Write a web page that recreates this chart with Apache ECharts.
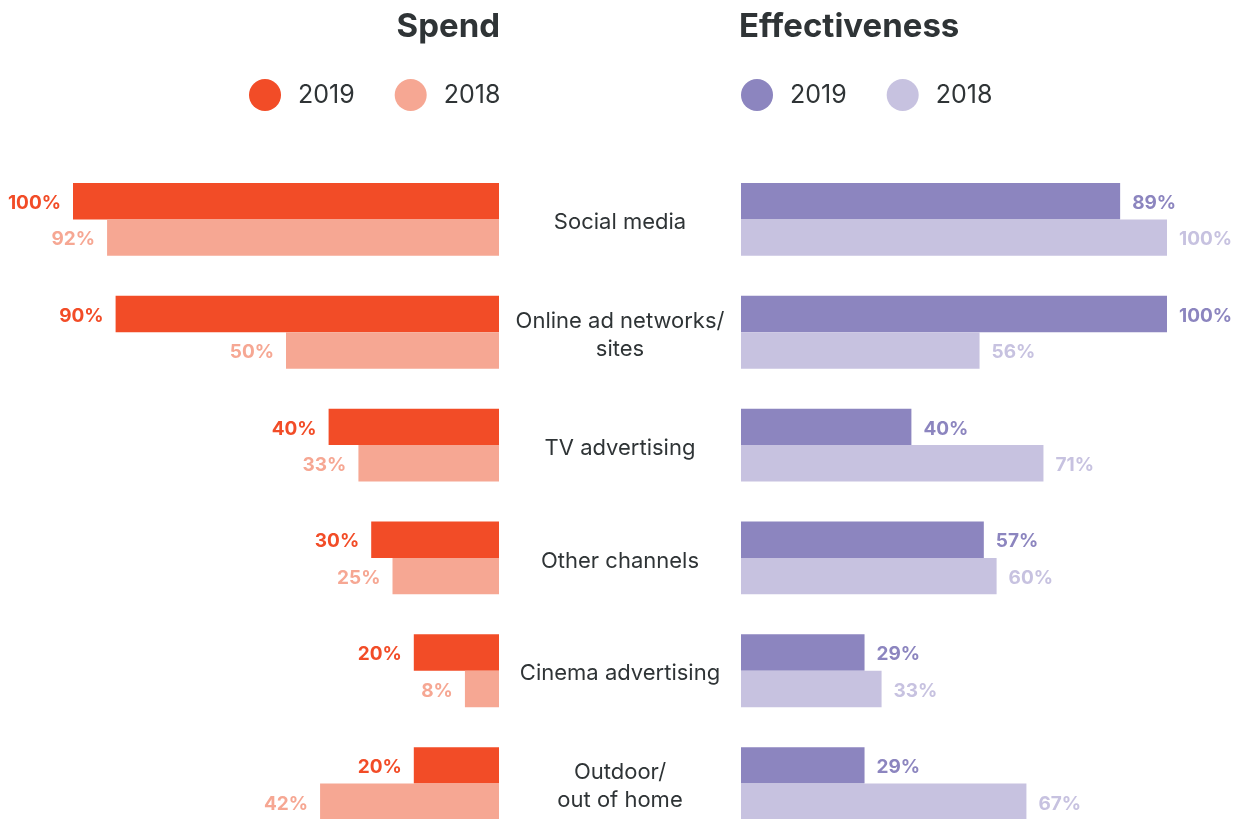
<!DOCTYPE html>
<html>
<head>
<meta charset="utf-8">
<style>
  html, body { margin: 0; padding: 0; background: #ffffff; }
  #chart { width: 1244px; height: 819px; }
</style>
<script src="https://cdn.jsdelivr.net/npm/echarts@6/dist/echarts.min.js"></script>
</head>
<body>
<div id="chart"></div>
<script>
// Channels, top to bottom
const categories = ['Social media', 'Online ad networks/\nsites', 'TV advertising', 'Other channels', 'Cinema advertising', 'Outdoor/\nout of home'];

// Spend share (%)
const spend2019 = [100, 90, 40, 30, 20, 20];
const spend2018 = [92, 50, 33, 25, 8, 42];

// Effectiveness share (%)
const effect2019 = [89, 100, 40, 57, 29, 29];
const effect2018 = [100, 56, 71, 60, 33, 67];

const panelTitles = ['Spend', 'Effectiveness'];
const legendYears = ['2019', '2018'];

const COLORS = {
  spend2019: '#F24C27',
  spend2018: '#F6A793',
  effect2019: '#8C85BF',
  effect2018: '#C7C2E0',
  text: '#2F3436'
};
const FONT = 'Inter, "Open Sans", sans-serif';

const chart = echarts.init(document.getElementById('chart'));

function barSeries(name, data, color, axisIndex, labelPos) {
  return {
    name: name,
    type: 'bar',
    xAxisIndex: axisIndex,
    yAxisIndex: axisIndex,
    data: data,
    barWidth: 36.4,
    barGap: '0%',
    itemStyle: { color: color },
    label: {
      show: true,
      position: labelPos,
      distance: 12,
      offset: [0, 2],
      formatter: '{c}%',
      color: color,
      fontFamily: FONT,
      fontWeight: 'bold',
      fontSize: 19
    },
    animation: false
  };
}

function legendFor(names, left) {
  return {
    data: names,
    left: left,
    top: 79,
    padding: 0,
    icon: 'circle',
    itemWidth: 32,
    itemHeight: 32,
    itemGap: 40,
    formatter: function (n) { return n.split(' ')[1]; },
    textStyle: {
      fontFamily: FONT,
      fontSize: 25,
      color: COLORS.text,
      padding: [0, 0, 0, 12]
    },
    selectedMode: false
  };
}

const option = {
  backgroundColor: '#ffffff',
  title: [
    {
      text: panelTitles[0],
      right: 1244 - 500,
      top: 11,
      padding: 0,
      textStyle: { fontFamily: FONT, fontWeight: 'bold', fontSize: 33, color: COLORS.text }
    },
    {
      text: panelTitles[1],
      left: 739,
      top: 11,
      padding: 0,
      textStyle: { fontFamily: FONT, fontWeight: 'bold', fontSize: 33, color: COLORS.text }
    }
  ],
  legend: [
    legendFor(['Spend ' + legendYears[0], 'Spend ' + legendYears[1]], 249),
    legendFor(['Effect ' + legendYears[0], 'Effect ' + legendYears[1]], 741)
  ],
  grid: [
    { left: 73, width: 426, top: 163, height: 677, outerBoundsMode: 'none' },
    { left: 741, width: 426, top: 163, height: 677, outerBoundsMode: 'none' }
  ],
  xAxis: [
    { type: 'value', gridIndex: 0, min: 0, max: 100, inverse: true, show: false },
    { type: 'value', gridIndex: 1, min: 0, max: 100, show: false }
  ],
  yAxis: [
    {
      type: 'category',
      gridIndex: 0,
      data: categories,
      inverse: true,
      position: 'right',
      axisLine: { show: false, onZero: false },
      axisTick: { show: false },
      axisLabel: {
        align: 'center',
        margin: 121,
        // rich fragments so the block can sit a little low in its row
        formatter: function (v) {
          return v.split('\n').map(function (line) { return '{c|' + line + '}'; }).join('\n');
        },
        rich: {
          c: {
            fontFamily: FONT,
            fontSize: 22,
            lineHeight: 28,
            padding: [6, 0, 0, 0],
            color: COLORS.text
          }
        }
      }
    },
    {
      type: 'category',
      gridIndex: 1,
      data: categories,
      inverse: true,
      axisLine: { show: false },
      axisTick: { show: false },
      axisLabel: { show: false }
    }
  ],
  series: [
    barSeries('Spend 2019', spend2019, COLORS.spend2019, 0, 'left'),
    barSeries('Spend 2018', spend2018, COLORS.spend2018, 0, 'left'),
    barSeries('Effect 2019', effect2019, COLORS.effect2019, 1, 'right'),
    barSeries('Effect 2018', effect2018, COLORS.effect2018, 1, 'right')
  ]
};

chart.setOption(option);
</script>
</body>
</html>
